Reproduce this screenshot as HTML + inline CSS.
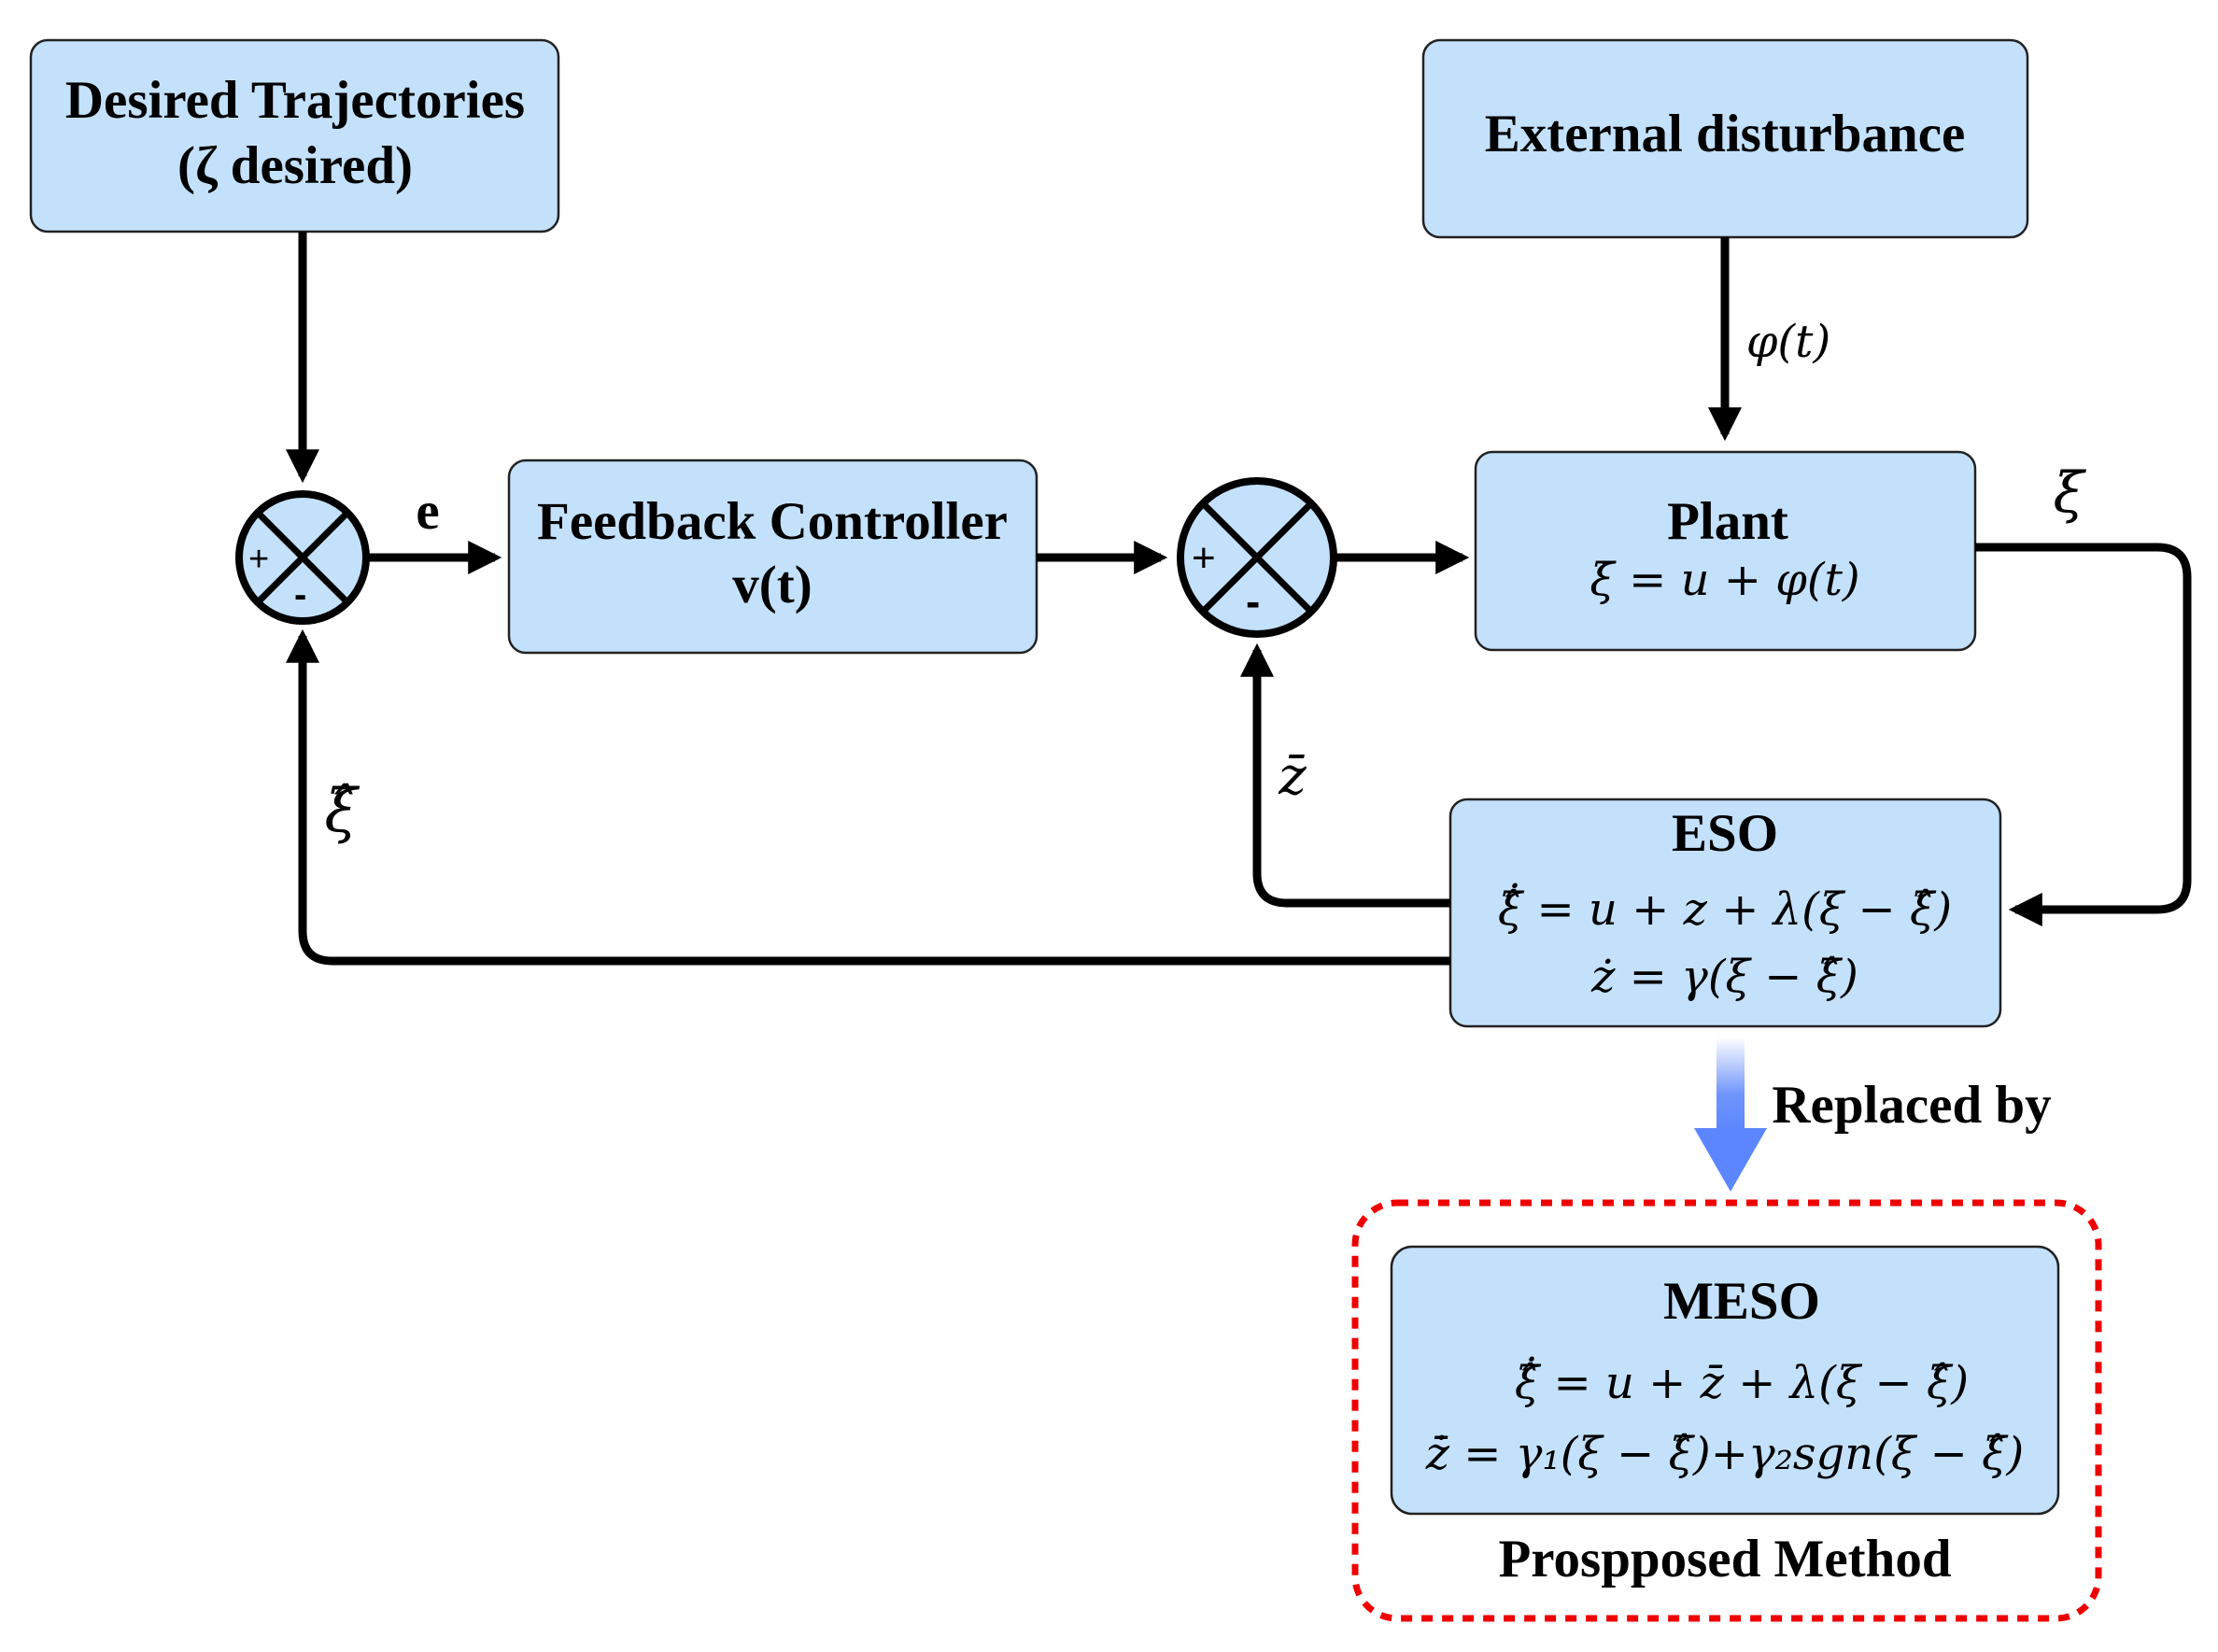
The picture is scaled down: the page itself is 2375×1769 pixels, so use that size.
<!DOCTYPE html>
<html><head><meta charset="utf-8"><style>
html,body{margin:0;padding:0;background:#fff}
svg{display:block}
.b{font-family:"Liberation Serif",serif;font-weight:bold;font-size:57px;fill:#000}
.m{font-family:"DejaVu Serif",serif;font-style:italic;font-size:48px;fill:#000}
</style></head><body>
<svg width="2375" height="1769" viewBox="0 0 2375 1769" xmlns="http://www.w3.org/2000/svg">
<defs>
<marker id="ah" markerWidth="4" markerHeight="4" refX="3.2" refY="2" orient="auto" markerUnits="strokeWidth">
<path d="M0,0 L4,2 L0,4 z" fill="#000"/></marker>
<linearGradient id="bg" x1="0" y1="0" x2="0" y2="1">
<stop offset="0" stop-color="#fff"/><stop offset="0.6" stop-color="#6f94fb"/><stop offset="1" stop-color="#5b86ff"/></linearGradient>
</defs>
<g fill="#c4e1fb" stroke="#222" stroke-width="2.5">
<rect x="33" y="43" width="565" height="205" rx="18"/>
<rect x="545" y="493" width="565" height="206" rx="18"/>
<rect x="1524" y="43" width="647" height="211" rx="18"/>
<rect x="1580" y="484" width="535" height="212" rx="18"/>
<rect x="1553" y="856" width="589" height="243" rx="18"/>
<rect x="1490" y="1335" width="714" height="286" rx="22"/>
</g>
<g fill="none" stroke="#000" stroke-width="9">
<line x1="324" y1="248" x2="324" y2="510" marker-end="url(#ah)"/>
<line x1="394" y1="597" x2="530" y2="597" marker-end="url(#ah)"/>
<line x1="1110" y1="597" x2="1243" y2="597" marker-end="url(#ah)"/>
<line x1="1430" y1="597" x2="1566" y2="597" marker-end="url(#ah)"/>
<line x1="1847" y1="254" x2="1847" y2="465" marker-end="url(#ah)"/>
<path d="M2115 586 H2310 Q2342 586 2342 618 V942 Q2342 974 2310 974 H2158" marker-end="url(#ah)"/>
<path d="M1553 967 H1378 Q1346 967 1346 935 V696" marker-end="url(#ah)"/>
<path d="M1553 1029 H356 Q324 1029 324 997 V681" marker-end="url(#ah)"/>
</g>
<g stroke="#000" stroke-width="8" fill="#c4e1fb">
<circle cx="324" cy="597" r="68"/>
<circle cx="1346" cy="597" r="82"/>
</g>
<g stroke="#000" stroke-width="7">
<line x1="276" y1="549" x2="372" y2="645"/><line x1="372" y1="549" x2="276" y2="645"/>
<line x1="1288" y1="539" x2="1404" y2="655"/><line x1="1404" y1="539" x2="1288" y2="655"/>
</g>
<text x="266" y="611" font-family="Liberation Sans,sans-serif" font-size="38">+</text>
<text x="315" y="650" font-family="Liberation Sans,sans-serif" font-size="40" font-weight="bold">-</text>
<text x="1276" y="612" font-family="Liberation Sans,sans-serif" font-size="44">+</text>
<text x="1334" y="660" font-family="Liberation Sans,sans-serif" font-size="46" font-weight="bold">-</text>
<g class="b" text-anchor="middle">
<text x="316" y="126">Desired Trajectories</text>
<text x="316" y="196">(ζ desired)</text>
<text x="458" y="566">e</text>
<text x="827" y="577">Feedback Controller</text>
<text x="827" y="645">v(t)</text>
<text x="1847" y="162">External disturbance</text>
<text x="1850" y="577">Plant</text>
<text x="1847" y="911">ESO</text>
<text x="1865" y="1412">MESO</text>
<text x="1847" y="1688">Prospposed Method</text>
<text x="2047" y="1202">Replaced by</text>
</g>
<g class="m" text-anchor="middle">
<text x="1915" y="382">φ(t)</text>
<text x="2215" y="548" font-size="60">ξ</text>
<text x="1384" y="850" font-size="56">z̄</text>
<text x="365" y="890" font-size="64">ξ̂</text>
<text x="1847" y="637">ξ̇ = u + φ(t)</text>
<text x="1847" y="990">ξ̂̇ = u + z + λ(ξ − ξ̂)</text>
<text x="1847" y="1062">ż = γ(ξ − ξ̂)</text>
<text x="1865" y="1497">ξ̂̇ = u + z̄ + λ(ξ − ξ̂)</text>
<text x="1847" y="1573">z̄̇ = γ₁(ξ − ξ̂)+γ₂sgn(ξ − ξ̂)</text>
</g>
<rect x="1838" y="1111" width="30" height="102" fill="url(#bg)"/>
<path d="M1814 1208 H1892 L1853 1276 z" fill="#5b86ff"/>
<rect x="1451" y="1288" width="796" height="445" rx="45" fill="none" stroke="#e00" stroke-width="7" stroke-dasharray="12 10"/>
</svg>
</body></html>
